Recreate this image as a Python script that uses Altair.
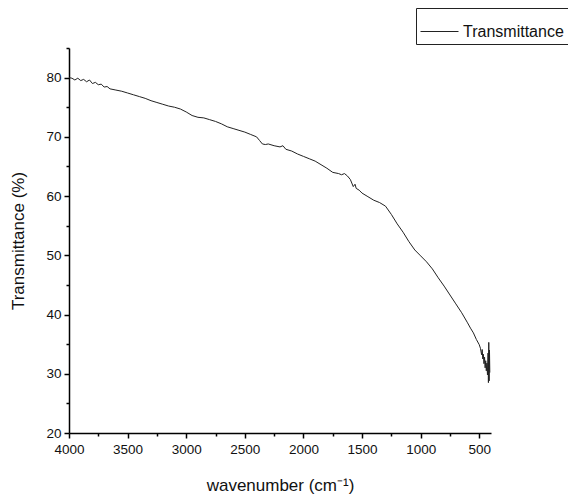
import altair as alt
import pandas as pd

wavenumber = [4000, 3975, 3950, 3925, 3900, 3875, 3850, 3825, 3800, 3775, 3750, 3725,
              3700, 3675, 3650, 3600, 3550, 3500, 3450, 3400, 3350, 3300, 3250, 3200,
              3150, 3100, 3050, 3000, 2950, 2900, 2850, 2800, 2750, 2700, 2650, 2600,
              2550, 2500, 2450, 2400, 2375, 2350, 2325, 2300, 2250, 2200, 2175, 2150,
              2100, 2050, 2000, 1950, 1900, 1850, 1800, 1750, 1700, 1675, 1650, 1625,
              1600, 1575, 1560, 1550, 1525, 1500, 1450, 1400, 1350, 1300, 1250, 1200,
              1150, 1100, 1050, 1000, 950, 900, 850, 800, 750, 700, 650, 600, 575,
              550, 525, 500, 490, 480, 475, 470, 465, 460, 455, 450, 445, 440, 435,
              430, 425, 422, 419, 416, 413, 410]
transmittance = [80.0, 79.9, 79.6, 79.9, 79.5, 79.7, 79.3, 79.6, 79.0, 79.2, 78.8, 78.9,
                 78.4, 78.5, 78.1, 77.9, 77.7, 77.4, 77.1, 76.8, 76.5, 76.1, 75.8, 75.5,
                 75.2, 75.0, 74.7, 74.2, 73.6, 73.3, 73.2, 72.9, 72.6, 72.2, 71.7, 71.4,
                 71.1, 70.8, 70.4, 70.0, 69.4, 68.8, 68.7, 68.8, 68.5, 68.3, 68.5, 67.9,
                 67.6, 67.1, 66.7, 66.3, 65.9, 65.3, 64.7, 64.0, 63.8, 63.6, 63.8, 63.4,
                 62.8, 61.6, 62.0, 61.3, 61.0, 60.5, 59.9, 59.3, 58.9, 58.3, 56.9, 55.3,
                 53.9, 52.3, 50.9, 49.9, 48.9, 47.7, 46.2, 44.8, 43.3, 41.8, 40.3, 38.6,
                 37.7, 36.9, 35.8, 34.9, 34.3, 33.2, 34.1, 32.5, 33.3, 31.7, 32.8, 31.0,
                 32.2, 30.5, 31.8, 29.8, 33.5, 28.5, 35.3, 28.8, 34.0, 30.2]
series = ["Transmittance"]

x_ticks = [4000, 3750, 3500, 3250, 3000, 2750, 2500, 2250, 2000, 1750, 1500, 1250,
           1000, 750, 500]
y_ticks = [20, 25, 30, 35, 40, 45, 50, 55, 60, 65, 70, 75, 80, 85]

df = pd.DataFrame({"wn": wavenumber, "T": transmittance,
                   "series": series * len(wavenumber)})

FONT = "Liberation Sans"

chart = alt.Chart(df).mark_line(strokeWidth=1, interpolate="linear").encode(
    x=alt.X("wn:Q",
            scale=alt.Scale(domain=[400, 4000], reverse=True, nice=False, zero=False),
            axis=alt.Axis(values=x_ticks, title="wavenumber (cm\u207b\u00b9)",
                          labelExpr="datum.value % 500 === 0 ? datum.label : ''",
                          format="d",
                          tickSize={"condition": {"test": "datum.value % 500 === 0", "value": 5}, "value": 3},
                          labelFlush=False, labelOverlap=False, labelPadding=4,
                          titlePadding=22)),
    y=alt.Y("T:Q",
            scale=alt.Scale(domain=[20, 85], nice=False, zero=False),
            axis=alt.Axis(values=y_ticks, title="Transmittance (%)",
                          labelExpr="datum.value % 10 === 0 ? datum.label : ''",
                          tickSize={"condition": {"test": "datum.value % 10 === 0", "value": 5}, "value": 3},
                          labelFlush=False, labelOverlap=False, labelPadding=3,
                          titlePadding=18)),
    color=alt.Color("series:N", scale=alt.Scale(domain=series, range=["#222222"]),
                    legend=alt.Legend(title=None, orient="none", legendX=347, legendY=-40,
                                      symbolType="stroke", symbolSize=1444,
                                      symbolStrokeWidth=1, labelFontSize=16,
                                      labelFont=FONT, labelColor="#111",
                                      labelOffset=4, padding=4,
                                      strokeColor="#222", fillColor="white",
                                      cornerRadius=0))
).properties(
    width=422, height=385,
    autosize=alt.AutoSizeParams(type="none"),
    padding={"left": 61, "top": 40, "right": 77, "bottom": 63}
).configure_view(stroke=None).configure_axis(
    grid=False, domainColor="black", domainWidth=1.5, tickColor="black", tickWidth=1.5,
    labelFont=FONT, labelFontSize=13.5, labelColor="#111",
    titleFont=FONT, titleFontSize=17, titleFontWeight="normal", titleColor="#111"
)

chart.save("out.html", embed_options={"renderer": "svg", "actions": False})
